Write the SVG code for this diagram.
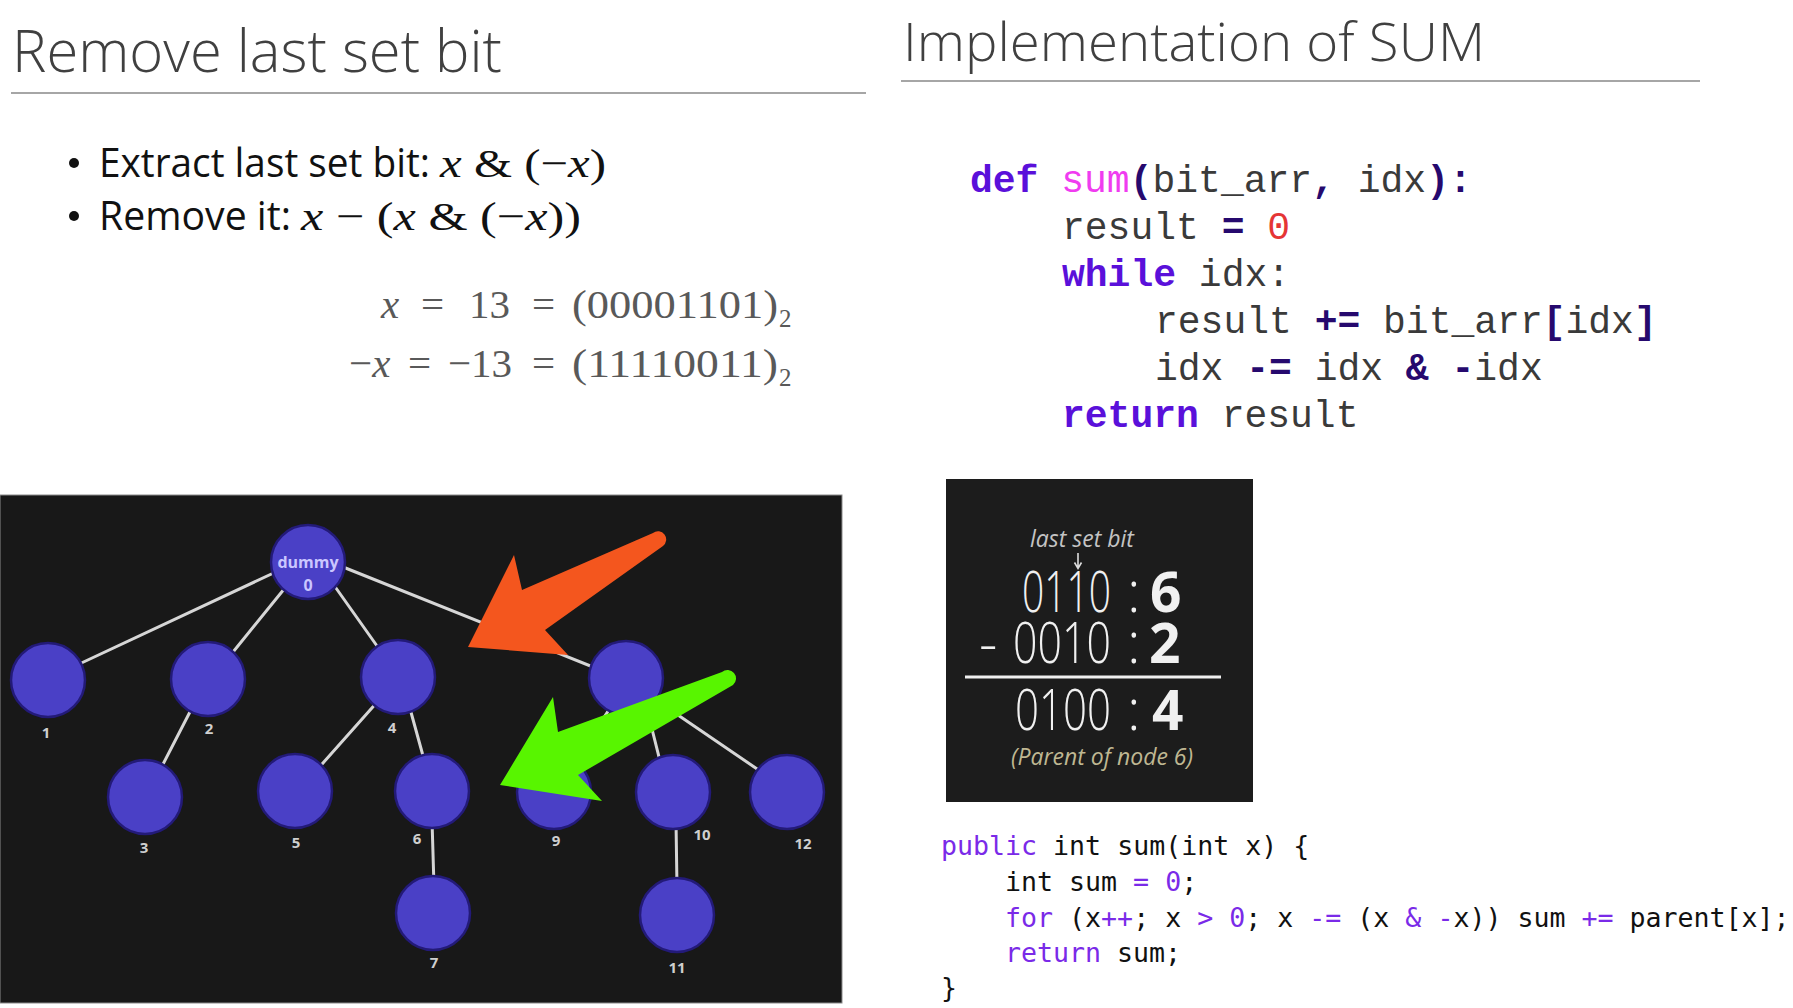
<svg xmlns="http://www.w3.org/2000/svg" width="1793" height="1008" viewBox="0 0 1793 1008">
  <style>
    .title { font-family: "Open Sans", "Lato", "Liberation Sans", sans-serif; font-weight: 300; fill: #404040; }
    .rule { stroke: #a6a6a6; stroke-width: 2; }
    .body { font-family: "Open Sans", "Lato", "Liberation Sans", sans-serif; fill: #111; font-size: 40px; }
    .math { font-family: "Liberation Serif", "DejaVu Serif", serif; }
    .mi { font-style: italic; }
    .eq { font-family: "Liberation Serif", "DejaVu Serif", serif; fill: #595959; font-size: 41px; }
    .py { font-family: "Liberation Mono", "DejaVu Sans Mono", monospace; font-size: 38px; fill: #3a3a3a; }
    .kw { fill: #5a10da; font-weight: bold; }
    .op { fill: #26096e; font-weight: bold; }
    .fn { fill: #f03cf0; }
    .num { fill: #e53535; }
    .java { font-family: "DejaVu Sans Mono", "Liberation Mono", monospace; font-size: 26.6px; fill: #111; }
    .jk { fill: #7a2ae8; }
    .edge { stroke: #d6d6d6; stroke-width: 3; stroke-linecap: round; }
    .node { fill: #4a40c6; stroke: #231a78; stroke-width: 2.5; }
    .lbl { font-family: "Open Sans", "DejaVu Sans", sans-serif; font-weight: bold; font-size: 15px; fill: #cfcfcf; text-anchor: middle; }
    .box { font-family: "Open Sans", "Lato", "Liberation Sans", sans-serif; fill: #f0f0f0; font-weight: 300; font-size: 57px; }
    .bold { font-weight: bold; font-size: 55px; }
  </style>

  <rect width="1793" height="1008" fill="#ffffff"/>

  <!-- left slide heading -->
  <text class="title" x="12" y="72" font-size="58" textLength="490" lengthAdjust="spacingAndGlyphs">Remove last set bit</text>
  <line class="rule" x1="11" y1="93" x2="866" y2="93"/>

  <!-- bullets -->
  <circle cx="74" cy="163" r="5" fill="#111"/>
  <circle cx="74" cy="216" r="5" fill="#111"/>
  <text class="body" x="99" y="177" textLength="331" lengthAdjust="spacingAndGlyphs">Extract last set bit:</text>
  <text class="math" x="440" y="177" font-size="41" fill="#111" textLength="166" lengthAdjust="spacingAndGlyphs"><tspan class="mi">x</tspan> &amp; (−<tspan class="mi">x</tspan>)</text>
  <text class="body" x="99" y="230" textLength="192" lengthAdjust="spacingAndGlyphs">Remove it:</text>
  <text class="math" x="301" y="230" font-size="41" fill="#111" textLength="280" lengthAdjust="spacingAndGlyphs"><tspan class="mi">x</tspan> − (<tspan class="mi">x</tspan> &amp; (−<tspan class="mi">x</tspan>))</text>

  <!-- two's complement example -->
  <g class="eq">
    <text x="381" y="318" class="mi">x</text>
    <text x="421" y="318">=</text>
    <text x="469" y="318">13</text>
    <text x="532" y="318">=</text>
    <text x="572" y="318" textLength="206" lengthAdjust="spacingAndGlyphs">(00001101)</text>
    <text x="779" y="327" font-size="25">2</text>
    <text x="349" y="377">−<tspan class="mi">x</tspan></text>
    <text x="408" y="377">=</text>
    <text x="448" y="377">−13</text>
    <text x="532" y="377">=</text>
    <text x="572" y="377" textLength="206" lengthAdjust="spacingAndGlyphs">(11110011)</text>
    <text x="779" y="386" font-size="25">2</text>
  </g>

  <!-- right slide heading -->
  <text class="title" x="903" y="61" font-size="53" textLength="582" lengthAdjust="spacingAndGlyphs">Implementation of SUM</text>
  <line class="rule" x1="901" y1="81" x2="1700" y2="81"/>

  <!-- python version -->
  <g class="py" xml:space="preserve">
    <text x="970" y="192"><tspan class="kw">def</tspan> <tspan class="fn">sum</tspan><tspan class="op">(</tspan>bit_arr<tspan class="op">,</tspan> idx<tspan class="op">):</tspan></text>
    <text x="1062" y="239">result <tspan class="op">=</tspan> <tspan class="num">0</tspan></text>
    <text x="1062" y="286"><tspan class="kw">while</tspan> idx:</text>
    <text x="1155" y="333">result <tspan class="op">+=</tspan> bit_arr<tspan class="op">[</tspan>idx<tspan class="op">]</tspan></text>
    <text x="1155" y="380">idx <tspan class="op">-=</tspan> idx <tspan class="op">&amp;</tspan> <tspan class="op">-</tspan>idx</text>
    <text x="1062" y="427"><tspan class="kw">return</tspan> result</text>
  </g>

  <!-- parent computation card: one text per row, pieces placed by x -->
  <g id="parent-card">
    <rect x="946" y="479" width="307" height="323" fill="#1c1c1c"/>
    <text x="1082" y="547" font-family="'Open Sans', 'Lato', sans-serif" font-size="23" font-style="italic" text-anchor="middle" fill="#c4c4c4">last set bit</text>
    <path d="M1078,553 V568 M1074.5,562.5 L1078,568.5 L1081.5,562.5" fill="none" stroke="#dddddd" stroke-width="1.6"/>
    <text class="box" y="612"><tspan x="1022" textLength="89" lengthAdjust="spacingAndGlyphs">0110</tspan><tspan x="1127">:</tspan><tspan x="1150" class="bold">6</tspan></text>
    <text class="box" y="663"><tspan x="979">-</tspan><tspan x="1013" textLength="98" lengthAdjust="spacingAndGlyphs">0010</tspan><tspan x="1127">:</tspan><tspan x="1149" class="bold">2</tspan></text>
    <line x1="965" y1="677" x2="1221" y2="677" stroke="#f0f0f0" stroke-width="3"/>
    <text class="box" y="730"><tspan x="1015" textLength="96" lengthAdjust="spacingAndGlyphs">0100</tspan><tspan x="1127">:</tspan><tspan x="1152" class="bold">4</tspan></text>
    <text x="1102" y="765" font-family="'Open Sans', 'Lato', sans-serif" font-size="23" font-style="italic" text-anchor="middle" fill="#bfb792">(Parent of node 6)</text>
  </g>

  <!-- java version -->
  <g class="java" xml:space="preserve">
    <text x="941" y="855"><tspan class="jk">public</tspan> int sum(int x) {</text>
    <text x="1005" y="891">int sum <tspan class="jk">=</tspan> <tspan class="jk">0</tspan>;</text>
    <text x="1005" y="927"><tspan class="jk">for</tspan> (x<tspan class="jk">++</tspan>; x <tspan class="jk">&gt;</tspan> <tspan class="jk">0</tspan>; x <tspan class="jk">-=</tspan> (x <tspan class="jk">&amp;</tspan> <tspan class="jk">-</tspan>x)) sum <tspan class="jk">+=</tspan> parent[x];</text>
    <text x="1005" y="962"><tspan class="jk">return</tspan> sum;</text>
    <text x="941" y="997">}</text>
  </g>

  <!-- Fenwick tree panel -->
  <rect x="0" y="495" width="842" height="508" fill="#181818" stroke="#8a8a8a" stroke-width="1"/>

  <g id="connectors">
    <line class="edge" x1="280" y1="570" x2="75" y2="666"/>
    <line class="edge" x1="289" y1="583" x2="229" y2="657"/>
    <line class="edge" x1="331" y1="581" x2="382" y2="653"/>
    <line class="edge" x1="338" y1="565" x2="598" y2="669"/>
    <line class="edge" x1="193" y1="706" x2="159" y2="772"/>
    <line class="edge" x1="379" y1="700" x2="315" y2="772"/>
    <line class="edge" x1="409" y1="705" x2="425" y2="763"/>
    <line class="edge" x1="432" y1="820" x2="434" y2="887"/>
    <line class="edge" x1="612" y1="705" x2="570" y2="770"/>
    <line class="edge" x1="646" y1="705" x2="661" y2="765"/>
    <line class="edge" x1="675" y1="713" x2="763" y2="773"/>
    <line class="edge" x1="676" y1="821" x2="677" y2="888"/>
  </g>

  <g id="node-0">
    <circle class="node" cx="308" cy="562" r="37"/>
    <text x="308" y="568" font-family="'Open Sans', 'DejaVu Sans', sans-serif" font-weight="bold" font-size="16" fill="#cac6ff" text-anchor="middle">dummy</text>
    <text x="308" y="591" font-family="'Open Sans', 'DejaVu Sans', sans-serif" font-weight="bold" font-size="16" fill="#cac6ff" text-anchor="middle">0</text>
  </g>
  <g id="node-1"><circle class="node" cx="48" cy="680" r="37"/><text class="lbl" x="46" y="738">1</text></g>
  <g id="node-2"><circle class="node" cx="208" cy="679" r="37"/><text class="lbl" x="209" y="734">2</text></g>
  <g id="node-4"><circle class="node" cx="398" cy="677" r="37"/><text class="lbl" x="392" y="733">4</text></g>
  <g id="node-8"><circle class="node" cx="626" cy="678" r="37"/></g>
  <g id="node-3"><circle class="node" cx="145" cy="797" r="37"/><text class="lbl" x="144" y="853">3</text></g>
  <g id="node-5"><circle class="node" cx="295" cy="791" r="37"/><text class="lbl" x="296" y="848">5</text></g>
  <g id="node-6"><circle class="node" cx="432" cy="791" r="37"/><text class="lbl" x="417" y="844">6</text></g>
  <g id="node-9"><circle class="node" cx="554" cy="792" r="37"/><text class="lbl" x="556" y="846">9</text></g>
  <g id="node-10"><circle class="node" cx="673" cy="792" r="37"/><text class="lbl" x="702" y="840">10</text></g>
  <g id="node-12"><circle class="node" cx="787" cy="792" r="37"/><text class="lbl" x="803" y="849">12</text></g>
  <g id="node-7"><circle class="node" cx="433" cy="913" r="37"/><text class="lbl" x="434" y="968">7</text></g>
  <g id="node-11"><circle class="node" cx="677" cy="915" r="37"/><text class="lbl" x="677" y="973">11</text></g>

  <!-- highlight arrows -->
  <path d="M653,533 L522,590 L514,555 L468,647 L568,655 L545,630 L663,546 A7.5,7.5 0 0 0 653,533 Z" fill="#f4561e"/>
  <path d="M722,672 L558,732 L553,697 L500,785 L602,801 L578,775 L733,685 A7.5,7.5 0 0 0 722,672 Z" fill="#58f500"/>
</svg>
